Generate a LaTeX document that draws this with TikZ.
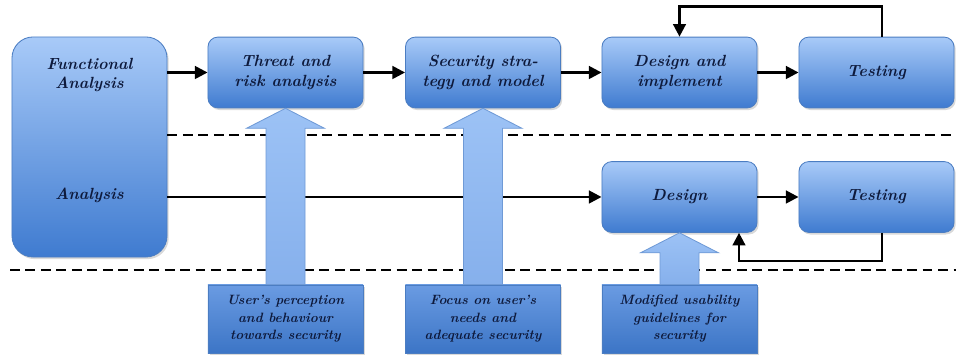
\documentclass[tikz,border=0pt]{standalone}
\usepackage{tikz}
\usetikzlibrary{shapes,arrows.meta,calc,shadows}
\usepackage{xcolor}
\definecolor{boxTop}{HTML}{A8CAF8}
\definecolor{boxBottom}{HTML}{3F7BD0}
\definecolor{boxEdge}{HTML}{4B7DC2}
\definecolor{labTop}{HTML}{6A9BE2}
\definecolor{labBottom}{HTML}{3C75C6}
\definecolor{upTop}{HTML}{9CC2F5}
\definecolor{upBottom}{HTML}{86B0EC}
\definecolor{upEdge}{HTML}{6F9AD6}
\definecolor{textBlue}{HTML}{0E1A3C}

\begin{document}
\begin{tikzpicture}[
  x=0.025cm,y=0.025cm,
  every node/.style={align=center,text=textBlue,font=\fontsize{11.5}{14}\selectfont\bfseries\itshape},
  phase/.style={draw=boxEdge,semithick,rounded corners=7pt,top color=boxTop,bottom color=boxBottom,
    minimum width=3.875cm,minimum height=1.77cm,inner sep=2pt,
    drop shadow={opacity=0.3,shadow xshift=1.2pt,shadow yshift=-1.5pt}},
  bigPhase/.style={phase,rounded corners=15pt,minimum height=5.5cm},
  emptyNode/.style={inner sep=0pt},
  input/.style={draw=boxEdge,semithick,top color=labTop,bottom color=labBottom,
    minimum width=3.875cm,minimum height=1.7cm,inner sep=1pt,
    font=\fontsize{9.6}{12.5}\selectfont\bfseries\itshape,
    drop shadow={opacity=0.3,shadow xshift=1.2pt,shadow yshift=-1.5pt}},
  flowArrow/.style={-{Triangle[length=9pt,width=9pt]},line width=1.8pt,black},
  sepLine/.style={line width=1.3pt,dash pattern=on 7pt off 4pt,black},
  upArrow/.style={draw=upEdge,semithick,top color=upTop,bottom color=upBottom}]

  \useasboundingbox (0,0) rectangle (956,360);

  % phases
  \node[bigPhase] (bigBox) at (89.5,213) {};
  \node[emptyNode] (funcLab) at (89.5,285) {Functional\\Analysis};
  \node[emptyNode] (anaLab) at (89.5,165) {Analysis};

  \node[phase] (risk) at (285.5,287.5) {Threat and\\risk analysis};
  \node[phase] (strategy) at (483,287.5) {Security stra-\\tegy and model};
  \node[phase] (design1) at (679.5,287.5) {Design and\\implement};
  \node[phase] (test1) at (876.5,287.5) {Testing};

  \node[phase] (design2) at (679.5,163) {Design};
  \node[phase] (test2) at (876.5,163) {Testing};

  % inputs
  \node[input] (perception) at (285.5,41) {User's perception\\and behaviour\\towards security};
  \node[input] (needs) at (483,41) {Focus on user's\\needs and\\adequate security};
  \node[input] (guidelines) at (679.5,41) {Modified usability\\guidelines for\\security};

  % separators
  \draw[sepLine] (bigBox.east |- 0,225) -- (956,225);
  \draw[sepLine] (10,90) -- (956,90);

  % flow
  \draw[flowArrow] (bigBox.east |- risk) -- (risk);
  \draw[flowArrow] (risk) -- (strategy);
  \draw[flowArrow] (strategy) -- (design1);
  \draw[flowArrow] (design1) -- (test1);
  \draw[flowArrow] ($(test1.north)+(5.5,0)$) -- ++(0,30) -| (design1.north);

  \draw[flowArrow] (bigBox.east |- design2) -- (design2);
  \draw[flowArrow] (design2) -- (test2);
  \draw[flowArrow] ($(test2.south)+(5.5,0)$) -- ++(0,-28) -| ($(design2.south)+(59.5,0)$);

  % block arrows
  \draw[upArrow] ($(perception.north)+(-19.5,0)$) |- ($(risk.south)+(-39,-20)$) -- (risk.south)
    -- ($(risk.south)+(39,-20)$) -| ($(perception.north)+(19.5,0)$) -- cycle;
  \draw[upArrow] ($(needs.north)+(-19.5,0)$) |- ($(strategy.south)+(-39,-20)$) -- (strategy.south)
    -- ($(strategy.south)+(39,-20)$) -| ($(needs.north)+(19.5,0)$) -- cycle;
  \draw[upArrow] ($(guidelines.north)+(-19.5,0)$) |- ($(design2.south)+(-39,-20)$) -- (design2.south)
    -- ($(design2.south)+(39,-20)$) -| ($(guidelines.north)+(19.5,0)$) -- cycle;

\end{tikzpicture}
\end{document}
